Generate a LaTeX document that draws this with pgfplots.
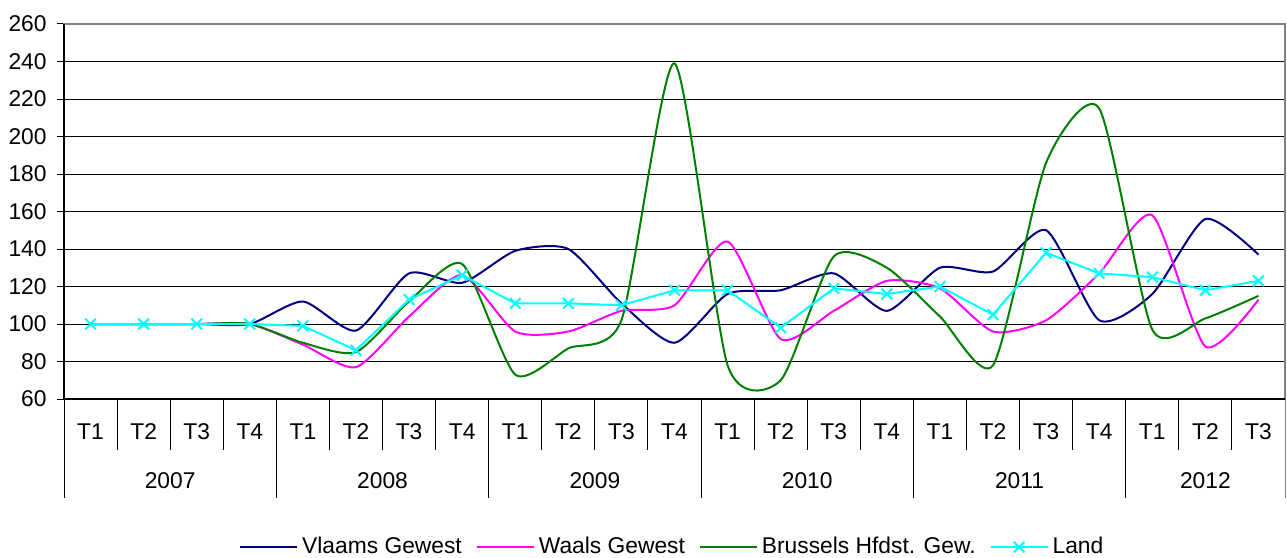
\documentclass[border=0pt]{standalone}
\usepackage{fontspec}
\setmainfont{Liberation Sans}
\usepackage{pgfplots}
\pgfplotsset{compat=1.18}
\definecolor{vl}{RGB}{0,0,128}
\definecolor{wa}{RGB}{255,0,255}
\definecolor{br}{RGB}{0,128,0}
\definecolor{la}{RGB}{0,255,255}
\definecolor{bordergray}{RGB}{128,128,128}
\begin{document}
\fontsize{11.4bp}{13bp}\selectfont
\begin{tikzpicture}
\useasboundingbox (-32bp,-79.5bp) rectangle (611.5bp,199.5bp);
\begin{axis}[
  scale only axis, width=610.5bp, height=187.5bp,
  at={(0,0)}, anchor=south west,
  clip=false,
  xmin=-0.5, xmax=22.5, ymin=60, ymax=260,
  ytick={60,80,...,260},
  xtick={0,...,22},
  xticklabels={T1,T2,T3,T4,T1,T2,T3,T4,T1,T2,T3,T4,T1,T2,T3,T4,T1,T2,T3,T4,T1,T2,T3},
  xtick style={draw=none},
  ytick style={black, line width=0.5bp},
  ytick align=outside, ytick pos=left,
  major tick length=3.5bp,
  ymajorgrids, grid style={black, line width=0.5bp},
  axis line style={bordergray, line width=0.6bp},
  /pgf/number format/assume math mode=true,
  yticklabel style={anchor=east, inner sep=0pt, xshift=-5bp},
  xticklabel style={anchor=center, inner sep=0pt, yshift=-16.5bp},
  tick label style={font=\fontsize{11.4bp}{13bp}\selectfont},
  legend columns=4,
  legend style={draw=none, fill=none, at={(axis description cs:0.499,-0.395)}, anchor=center,
    font=\fontsize{11.4bp}{13bp}\selectfont,
    /tikz/every even column/.append style={column sep=5bp},
    /tikz/every odd column/.append style={column sep=0bp},
    inner sep=0pt},
  legend image code/.code={\draw[mark repeat=2, mark phase=2, #1] plot coordinates {(0bp,0bp) (14.25bp,0bp) (28.5bp,0bp)};},
]
\addplot[vl, line width=1bp, smooth, tension=0.4, no markers] coordinates {
(0,100)(1,100)(2,100)(3,100)(4,112)(5,96.5)(6,127)(7,122)(8,139)(9,140)(10,111)(11,90)
(12,116)(13,118)(14,127)(15,107)(16,130)(17,128)(18,150)(19,102)(20,116)(21,156)(22,137)};
\addlegendentry{Vlaams Gewest}
\addplot[wa, line width=1bp, smooth, tension=0.4, no markers] coordinates {
(0,100)(1,100)(2,100)(3,100)(4,89)(5,77)(6,104)(7,126)(8,96)(9,96)(10,107)(11,110)
(12,144)(13,92)(14,107)(15,123)(16,119)(17,96)(18,102)(19,127)(20,158)(21,88)(22,113)};
\addlegendentry{Waals Gewest}
\addplot[br, line width=1bp, smooth, tension=0.4, no markers] coordinates {
(0,100)(1,100)(2,100)(3,100)(4,90)(5,85)(6,112)(7,132)(8,73)(9,87)(10,102)(11,239)
(12,78)(13,70)(14,136)(15,130)(16,104)(17,78)(18,186)(19,215)(20,97)(21,103)(22,115)};
\addlegendentry{Brussels Hfdst. Gew.}
\addplot[la, line width=1bp, mark=x, mark size=3.75bp, mark options={line width=1bp}] coordinates {
(0,100)(1,100)(2,100)(3,100)(4,99)(5,86)(6,113)(7,126)(8,111)(9,111)(10,110)(11,118)
(12,118)(13,98)(14,119)(15,116)(16,120)(17,105)(18,138)(19,127)(20,125)(21,118)(22,123)};
\addlegendentry{Land}
% left and bottom axis lines in black
\draw[black, line width=0.6bp] (axis cs:-0.5,260) -- (axis cs:-0.5,60) -- (axis cs:22.5,60);
% category separators
\pgfplotsinvokeforeach{0.5,1.5,2.5,4.5,5.5,6.5,8.5,9.5,10.5,12.5,13.5,14.5,16.5,17.5,18.5,20.5,21.5}{
  \draw[black, line width=0.5bp] (axis cs:#1,60) -- ++(0pt,-25.5bp);
}
\pgfplotsinvokeforeach{-0.5,3.5,7.5,11.5,15.5,19.5}{
  \draw[black, line width=0.5bp] (axis cs:#1,60) -- ++(0pt,-49.5bp);
}
\draw[bordergray, line width=0.5bp] (axis cs:22.5,60) -- ++(0pt,-49.5bp);
\node[inner sep=0pt] at ([yshift=-41bp]axis cs:1.5,60) {2007};
\node[inner sep=0pt] at ([yshift=-41bp]axis cs:5.5,60) {2008};
\node[inner sep=0pt] at ([yshift=-41bp]axis cs:9.5,60) {2009};
\node[inner sep=0pt] at ([yshift=-41bp]axis cs:13.5,60) {2010};
\node[inner sep=0pt] at ([yshift=-41bp]axis cs:17.5,60) {2011};
\node[inner sep=0pt] at ([yshift=-41bp]axis cs:21,60) {2012};
\end{axis}
\end{tikzpicture}
\end{document}
